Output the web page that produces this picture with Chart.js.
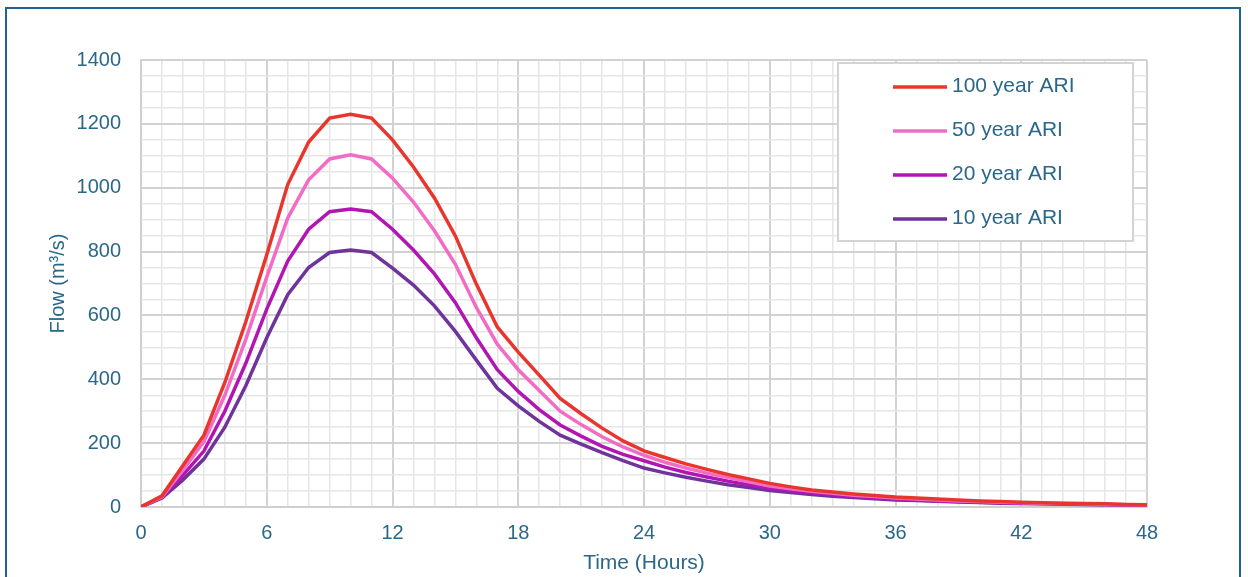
<!DOCTYPE html>
<html>
<head>
<meta charset="utf-8">
<script src="https://cdn.jsdelivr.net/npm/chart.js@4.4.1/dist/chart.umd.min.js"></script>
<style>
  html, body { margin: 0; padding: 0; background: #ffffff; overflow: hidden; }
  #wrap { position: relative; width: 1248px; height: 577px; }
  canvas { display: block; }
</style>
</head>
<body>
<div id="wrap"><canvas id="c" width="1248" height="577"></canvas></div>
<script>
// Time in hours (x values)
const hours = [0,1,2,3,4,5,6,7,8,9,10,11,12,13,14,15,16,17,18,19,20,21,22,23,24,25,26,27,28,29,30,31,32,33,34,35,36,37,38,39,40,41,42,43,44,45,46,47,48];

// Flow (m3/s) per series
const flow100 = [0,35,130,225,390,580,790,1010,1143,1218,1230,1218,1150,1065,968,849,698,564,485,413,340,292,247,207,176,155,135,118,102,88,74,63,53,47,41,36,31,28,25,22,19,17,15,13,12,11,10,8,7];
const flow50  = [0,32,115,205,350,525,720,905,1025,1090,1103,1090,1030,955,865,760,625,510,430,365,300,258,220,188,162,140,122,106,92,79,66,57,49,43,37,33,28,25,22,19,17,15,13,12,11,10,9,7,6];
const flow20  = [0,30,100,175,300,450,620,770,870,925,933,925,870,805,730,640,530,430,362,305,257,222,190,165,145,125,108,94,81,70,59,51,44,38,33,29,25,22,19,17,15,13,12,11,10,9,8,7,6];
const flow10  = [0,28,85,150,250,380,530,665,750,797,805,797,748,695,630,550,460,372,317,268,225,197,170,145,122,107,93,81,70,61,52,45,39,34,30,26,22,20,18,16,14,12,11,10,9,8,7,6,5];

const seriesLabels = ['100 year ARI','50 year ARI','20 year ARI','10 year ARI'];
const seriesColors = ['#e8362f','#f26cc6','#b216b2','#6e349c'];

const xTickStep = 6;    // labelled every 6 hours
const yTickStep = 200;  // labelled every 200
const xMax = 48, yMax = 1400;

const TEXT = '#2a6889';
const FONT = "'Liberation Sans', Arial, sans-serif";

function toPts(arr){ return hours.map((h,i)=>({x:h,y:arr[i]})); }
const allSeries = [flow100, flow50, flow20, flow10];

const legendPlugin = {
  id: 'customLegend',
  afterDraw(chart){
    const ctx = chart.ctx;
    ctx.save();
    // legend box
    ctx.fillStyle = '#ffffff';
    ctx.fillRect(838, 63, 295, 178);
    ctx.strokeStyle = '#d3d3d3';
    ctx.lineWidth = 2;
    ctx.strokeRect(838, 63, 295, 178);
    const rows = [86, 130, 174, 218];
    chart.data.datasets.forEach((ds, i) => {
      const y = rows[i];
      ctx.strokeStyle = ds.borderColor;
      ctx.lineWidth = 3.5;
      ctx.beginPath();
      ctx.moveTo(893, y + 1);
      ctx.lineTo(947, y + 1);
      ctx.stroke();
      ctx.fillStyle = TEXT;
      ctx.font = '21px ' + FONT;
      ctx.textAlign = 'left';
      ctx.textBaseline = 'middle';
      ctx.fillText(ds.label, 952, y);
    });
    // outer frame
    ctx.strokeStyle = '#1f6394';
    ctx.lineWidth = 2;
    ctx.beginPath();
    ctx.moveTo(6, 600);
    ctx.lineTo(6, 8);
    ctx.lineTo(1240, 8);
    ctx.lineTo(1240, 600);
    ctx.stroke();
    ctx.restore();
  }
};

new Chart(document.getElementById('c'), {
  type: 'line',
  data: {
    datasets: allSeries.map((arr, i) => ({
      label: seriesLabels[i],
      data: toPts(arr),
      borderColor: seriesColors[i],
      backgroundColor: seriesColors[i],
      borderWidth: 3.5,
      pointRadius: 0,
      tension: 0,
      fill: false
    }))
  },
  options: {
    responsive: false,
    animation: false,
    events: [],
    layout: { padding: { top: 60, right: 101, bottom: 0, left: 0 } },
    plugins: { legend: { display: false }, tooltip: { enabled: false } },
    scales: {
      x: {
        type: 'linear', min: 0, max: xMax,
        afterFit(s){ s.height = 70; },
        ticks: {
          stepSize: 1, autoSkip: false, maxRotation: 0, padding: 14,
          color: TEXT, font: { family: FONT, size: 20 },
          callback: v => (v % xTickStep === 0 ? String(v) : '')
        },
        grid: {
          drawTicks: false,
          color: c => (c.tick && c.tick.value % xTickStep === 0 ? '#d2d2d2' : '#e6e6e6'),
          lineWidth: c => (c.tick && c.tick.value % xTickStep === 0 ? 2 : 1.5)
        },
        border: { color: '#cfcfcf', width: 2 },
        title: {
          display: true, text: 'Time (Hours)', color: TEXT,
          font: { family: FONT, size: 21 }, padding: { top: 0, bottom: 1 }
        }
      },
      y: {
        type: 'linear', min: 0, max: yMax,
        afterFit(s){ s.width = 141; },
        ticks: {
          stepSize: 50, autoSkip: false, padding: 20,
          color: TEXT, font: { family: FONT, size: 20 },
          callback: v => (v % yTickStep === 0 ? String(v) : '')
        },
        grid: {
          drawTicks: false,
          color: c => (c.tick && c.tick.value % yTickStep === 0 ? '#d2d2d2' : '#e6e6e6'),
          lineWidth: c => (c.tick && c.tick.value % yTickStep === 0 ? 2 : 1.5)
        },
        border: { color: '#cfcfcf', width: 2 },
        title: {
          display: true, text: 'Flow (m³/s)', color: TEXT,
          font: { family: FONT, size: 20 }, padding: { top: 46, bottom: 0 }
        }
      }
    }
  },
  plugins: [legendPlugin]
});
</script>
</body>
</html>
